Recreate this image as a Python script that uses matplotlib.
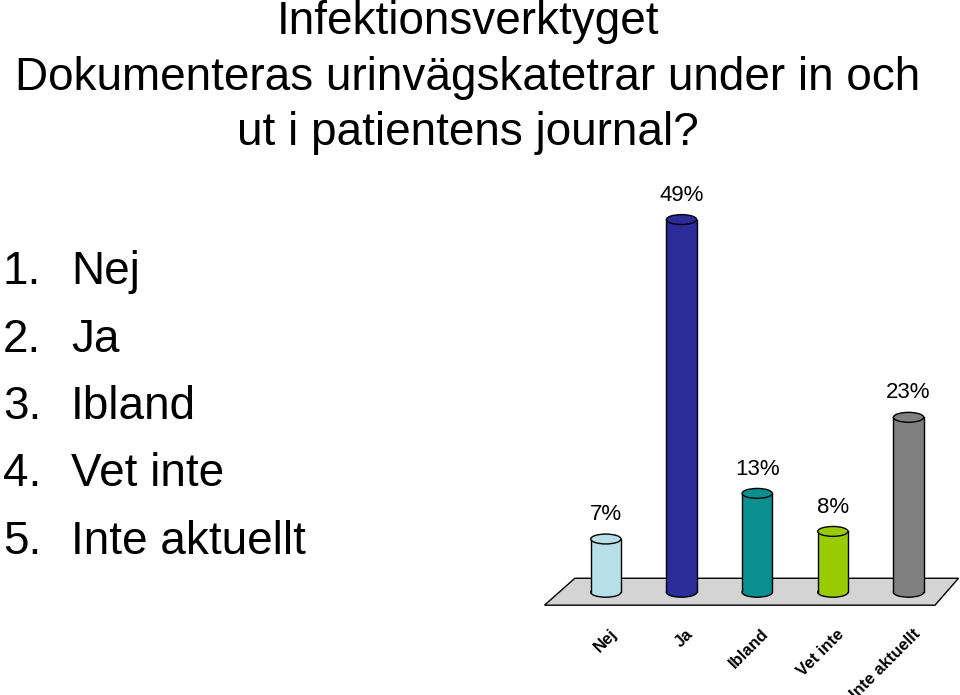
import matplotlib.pyplot as plt
from matplotlib.patches import Ellipse, Polygon, Rectangle

plt.rcParams['font.family'] = ['Liberation Sans', 'DejaVu Sans']

categories = ['Nej', 'Ja', 'Ibland', 'Vet inte', 'Inte aktuellt']
values = [7, 49, 13, 8, 23]
colors = ['#b7dfe8', '#2b2b99', '#0a8f8f', '#99cc00', '#808080']
title_lines = ['Infektionsverktyget', 'Dokumenteras urinvägskatetrar under in och', 'ut i patientens journal?']

fig = plt.figure(figsize=(9.6, 6.95), dpi=100)

fig.text(0.4875, 1 - 22 / 695, title_lines[0], ha='center', va='center', fontsize=33)
fig.text(0.4875, 1 - 78 / 695, title_lines[1], ha='center', va='center', fontsize=33)
fig.text(0.4875, 1 - 133 / 695, title_lines[2], ha='center', va='center', fontsize=33)

for i, c in enumerate(categories):
    y = 1 - (272 + i * 67.5) / 695
    fig.text(0.003, y, f'{i + 1}.', ha='left', va='center', fontsize=33)
    fig.text(0.074, y, c, ha='left', va='center', fontsize=33)

ax = fig.add_axes([0.5625, 0.115, 0.4375, 0.626])
ax.set_xlim(-0.87, 4.68)
ax.set_ylim(-3, 54.2)
ax.axis('off')

floor = Polygon([(-0.81, -1.7), (-0.41, 1.84), (4.66, 1.84), (4.35, -1.7)],
                closed=True, facecolor='#d4d4d4', edgecolor='black', lw=1)
ax.add_patch(floor)

w = 0.4
eh = 1.3
for i, (v, col) in enumerate(zip(values, colors)):
    ax.add_patch(Ellipse((i, 0), w, eh, facecolor=col, edgecolor='black', lw=1, zorder=2))
    ax.add_patch(Rectangle((i - w / 2, 0), w, v, facecolor=col, edgecolor='none', zorder=3))
    ax.plot([i - w / 2, i - w / 2], [0, v], color='black', lw=1, zorder=4)
    ax.plot([i + w / 2, i + w / 2], [0, v], color='black', lw=1, zorder=4)
    ax.add_patch(Ellipse((i, v), w, eh, facecolor=col, edgecolor='black', lw=1, zorder=5))
    ax.text(i, v + 3.2, f'{v}%', ha='center', va='center', fontsize=16)
    ax.text(i + 0.05, -4.5, categories[i], ha='right', va='top', rotation=45,
            rotation_mode='anchor', fontsize=12, fontweight='bold', clip_on=False)

fig.savefig('out.png', dpi=100)
